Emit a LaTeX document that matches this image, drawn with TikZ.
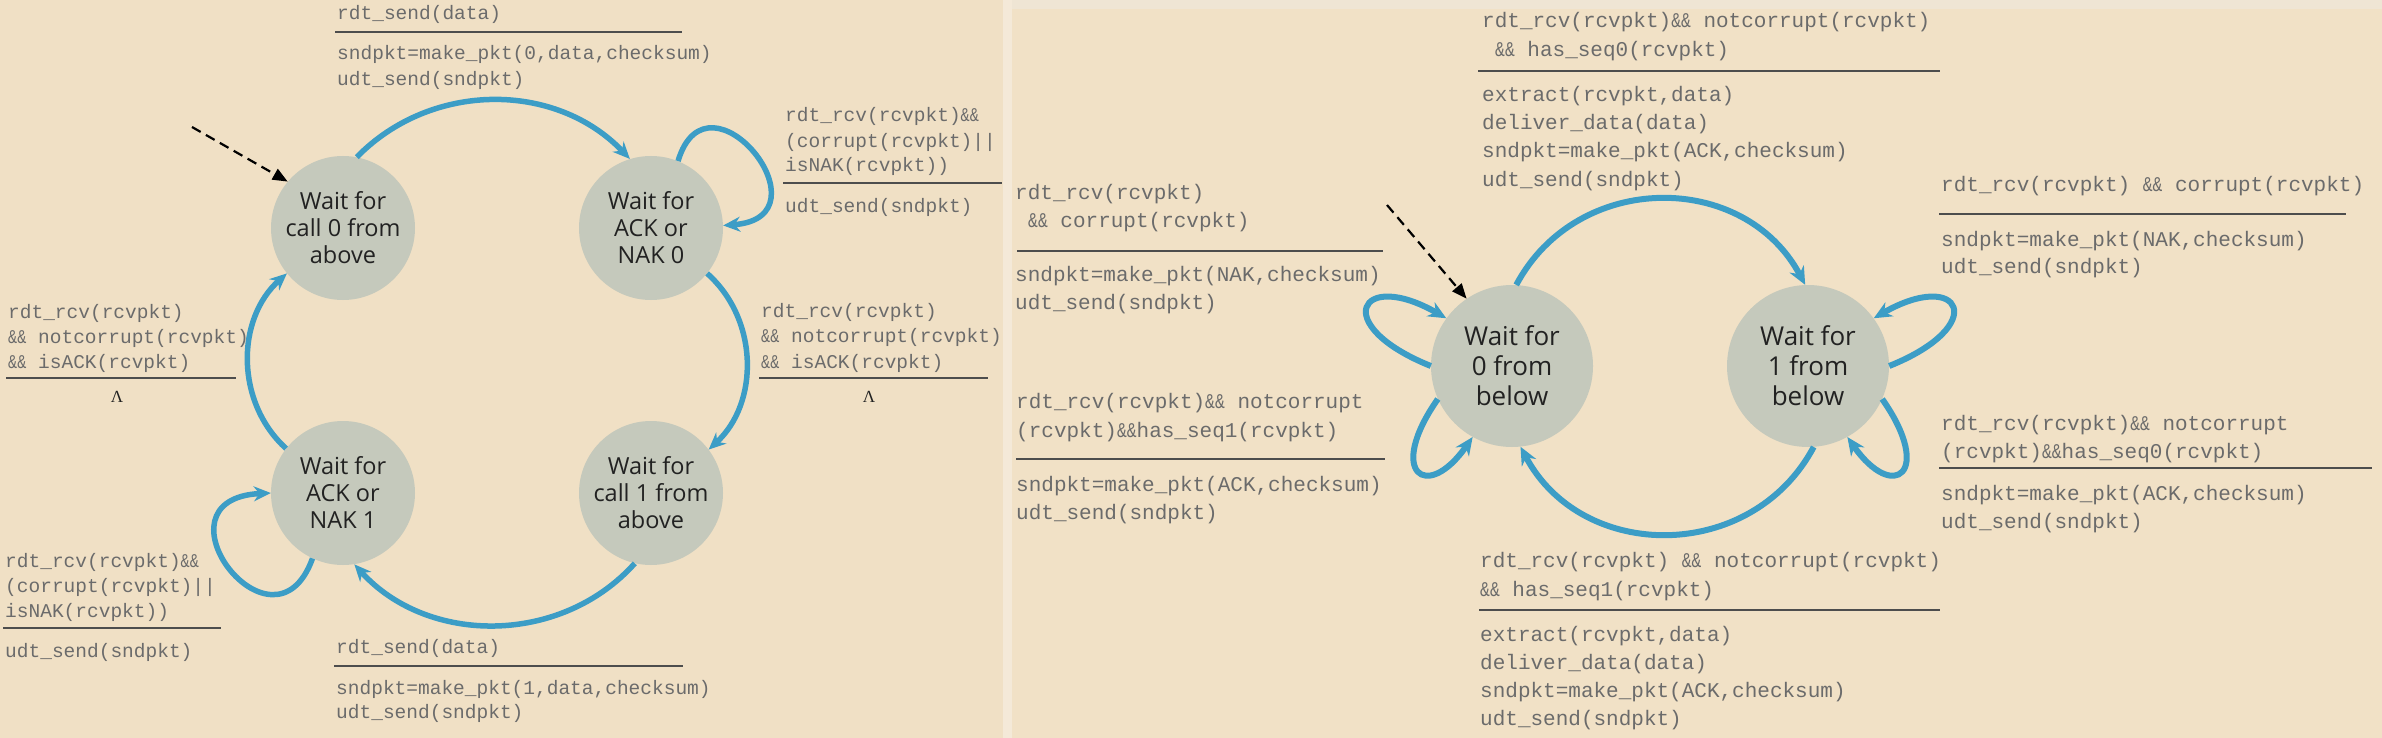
\documentclass[tikz,border=0pt]{standalone}
\usepackage{fontspec}
\usepackage{graphicx}
\usetikzlibrary{arrows.meta}
\newfontfamily\monofam{Liberation Mono}
\newfontfamily\statefam{Open Sans}
\newfontfamily\lamfam{Liberation Serif}
\newcommand\amps{\scalebox{0.78}[1]{\&\&}}
\definecolor{bgL}{HTML}{F0E0C5}
\definecolor{bgR}{HTML}{F1E1C6}
\definecolor{bgStrip}{HTML}{F4E9D8}
\definecolor{bgTop}{HTML}{EFE5D4}
\definecolor{stategray}{HTML}{C5C9BC}
\definecolor{statetext}{HTML}{222222}
\definecolor{arcblue}{HTML}{3C9DC6}
\definecolor{txtgray}{HTML}{6B6B6B}
\definecolor{rulegray}{HTML}{4D4D4D}
\begin{document}
\begin{tikzpicture}[x=1pt,y=1pt,
  monoL/.style={font=\monofam\fontsize{19.5}{24}\selectfont, text=txtgray, anchor=base west, inner sep=0pt},
  monoR/.style={font=\monofam\fontsize{21}{26}\selectfont, text=txtgray, anchor=base west, inner sep=0pt},
  lam/.style={font=\lamfam\fontsize{17}{19}\selectfont, text=statetext, inner sep=0pt},
  rulel/.style={draw=rulegray, line width=2.4pt},
  stateL/.style={circle, fill=stategray, minimum size=144pt, inner sep=0pt, align=center, font=\statefam\fontsize{23.5}{27}\selectfont, text=statetext},
  stateR/.style={circle, fill=stategray, minimum size=162pt, inner sep=0pt, align=center, font=\statefam\fontsize{26}{30}\selectfont, text=statetext},
  trans/.style={draw=arcblue, line width=5.5pt, -{Stealth[length=17pt,width=15pt]}},
  transR/.style={draw=arcblue, line width=6pt, -{Stealth[length=18pt,width=16pt]}},
  init/.style={draw=black, line width=2.2pt, dash pattern=on 10pt off 6pt, -{Triangle[length=15pt,width=12pt]}}
]
% backgrounds
\fill[bgL] (0,0) rectangle (1003,-738);
\fill[bgStrip] (1003,0) rectangle (1012,-738);
\fill[bgR] (1012,0) rectangle (2382,-738);
\fill[bgTop] (1012,0) rectangle (2382,-9);

% ---------------- left: sender ----------------
\node[stateL] (c1) at (343,-228) {Wait for\\call 0 from\\above};
\node[stateL] (c2) at (651,-228) {Wait for\\ACK or\\NAK 0};
\node[stateL] (c3) at (343,-493) {Wait for\\ACK or\\NAK 1};
\node[stateL] (c4) at (651,-493) {Wait for\\call 1 from\\above};

\coordinate (s1) at (192,-127);
\draw[init] (s1) -- (c1.140);

\draw[trans] (c1.79) to[bend left=46] (c2.107);
\draw[trans] (c2.-39) to[bend left=48] (c4.37);
\draw[trans] (c4.-103) to[bend left=48] (c3.-81);
\draw[trans] (c3.142) to[bend left=48] (c1.219);
\draw[trans] (c2.68) .. controls +(30,100) and +(110,8) .. (c2.2);
\draw[trans] (c3.-115) .. controls +(-39,-108) and +(-125,-6) .. (c3.180);

% top label
\node[monoL] (ta1) at (337,-20) {rdt\_send(data)};
\draw[rulel] (335,-32) -- (682,-32);
\node[monoL] (ta2) at (337,-60) {sndpkt=make\_pkt(0,data,checksum)};
\node[monoL] (ta3) at (337,-86) {udt\_send(sndpkt)};

% c2 self loop label
\node[monoL] (tb1) at (785,-122) {rdt\_rcv(rcvpkt)\amps};
\node[monoL] (tb2) at (785,-148) {(corrupt(rcvpkt)||};
\node[monoL] (tb3) at (785,-172) {isNAK(rcvpkt))};
\draw[rulel] (783,-183) -- (1002,-183);
\node[monoL] (tb4) at (785,-212) {udt\_send(sndpkt)};

% left label
\node[monoL] (tc1) at (8,-318) {rdt\_rcv(rcvpkt)};
\node[monoL] (tc2) at (8,-343) {\amps{} notcorrupt(rcvpkt)};
\node[monoL] (tc3) at (8,-368) {\amps{} isACK(rcvpkt)};
\draw[rulel] (6,-378) -- (236,-378);
\node[lam] (tc4) at (117,-397) {Λ};

% right label
\node[monoL] (td1) at (761,-317) {rdt\_rcv(rcvpkt)};
\node[monoL] (td2) at (761,-342) {\amps{} notcorrupt(rcvpkt)};
\node[monoL] (td3) at (761,-368) {\amps{} isACK(rcvpkt)};
\draw[rulel] (759,-378) -- (988,-378);
\node[lam] (td4) at (869,-397) {Λ};

% c3 self loop label
\node[monoL] (te1) at (5,-567) {rdt\_rcv(rcvpkt)\amps};
\node[monoL] (te2) at (5,-592) {(corrupt(rcvpkt)||};
\node[monoL] (te3) at (5,-617) {isNAK(rcvpkt))};
\draw[rulel] (3,-628) -- (221,-628);
\node[monoL] (te4) at (5,-657) {udt\_send(sndpkt)};

% bottom label
\node[monoL] (tf1) at (336,-653) {rdt\_send(data)};
\draw[rulel] (334,-666) -- (683,-666);
\node[monoL] (tf2) at (336,-694) {sndpkt=make\_pkt(1,data,checksum)};
\node[monoL] (tf3) at (336,-718) {udt\_send(sndpkt)};

% ---------------- right: receiver ----------------
\node[stateR] (c5) at (1512,-366) {Wait for\\0 from\\below};
\node[stateR] (c6) at (1808,-366) {Wait for\\1 from\\below};

\coordinate (s2) at (1387,-205);
\draw[init] (s2) -- (c5.124);

\draw[transR] (c5.87) to[bend left=62, looseness=1.15] (c6.92);
\draw[transR] (c6.-86) to[bend left=62, looseness=1.15] (c5.-84);
\draw[transR] (c5.180) .. controls +(-102,41) and +(-87,50) .. (c5.144);
\draw[transR] (c5.204) .. controls +(-52,-74) and +(-46,-66) .. (c5.241);
\draw[transR] (c6.0) .. controls +(102,41) and +(87,50) .. (c6.36);
\draw[transR] (c6.-24) .. controls +(52,-74) and +(46,-66) .. (c6.-61);

% R1 top
\node[monoR] (ra1) at (1482,-28) {rdt\_rcv(rcvpkt)\amps{} notcorrupt(rcvpkt)};
\node[monoR] (ra2) at (1495,-57) {\amps{} has\_seq0(rcvpkt)};
\draw[rulel] (1478,-71) -- (1940,-71);
\node[monoR] (ra3) at (1482,-102) {extract(rcvpkt,data)};
\node[monoR] (ra4) at (1482,-130) {deliver\_data(data)};
\node[monoR] (ra5) at (1482,-158) {sndpkt=make\_pkt(ACK,checksum)};
\node[monoR] (ra6) at (1482,-187) {udt\_send(sndpkt)};

% R2 left upper
\node[monoR] (rb1) at (1015,-200) {rdt\_rcv(rcvpkt)};
\node[monoR] (rb2) at (1028,-228) {\amps{} corrupt(rcvpkt)};
\draw[rulel] (1017,-251) -- (1383,-251);
\node[monoR] (rb3) at (1015,-281) {sndpkt=make\_pkt(NAK,checksum)};
\node[monoR] (rb4) at (1015,-309) {udt\_send(sndpkt)};

% R3 left lower
\node[monoR] (rc1) at (1016,-408) {rdt\_rcv(rcvpkt)\amps{} notcorrupt};
\node[monoR] (rc2) at (1016,-437) {(rcvpkt)\amps has\_seq1(rcvpkt)};
\draw[rulel] (1016,-459) -- (1385,-459);
\node[monoR] (rc3) at (1016,-491) {sndpkt=make\_pkt(ACK,checksum)};
\node[monoR] (rc4) at (1016,-519) {udt\_send(sndpkt)};

% R4 right upper
\node[monoR] (rd1) at (1941,-192) {rdt\_rcv(rcvpkt) \amps{} corrupt(rcvpkt)};
\draw[rulel] (1939,-214) -- (2346,-214);
\node[monoR] (rd2) at (1941,-246) {sndpkt=make\_pkt(NAK,checksum)};
\node[monoR] (rd3) at (1941,-273) {udt\_send(sndpkt)};

% R5 right lower
\node[monoR] (re1) at (1941,-430) {rdt\_rcv(rcvpkt)\amps{} notcorrupt};
\node[monoR] (re2) at (1941,-458) {(rcvpkt)\amps has\_seq0(rcvpkt)};
\draw[rulel] (1939,-468) -- (2372,-468);
\node[monoR] (re3) at (1941,-500) {sndpkt=make\_pkt(ACK,checksum)};
\node[monoR] (re4) at (1941,-528) {udt\_send(sndpkt)};

% R6 bottom
\node[monoR] (rf1) at (1480,-567) {rdt\_rcv(rcvpkt) \amps{} notcorrupt(rcvpkt)};
\node[monoR] (rf2) at (1480,-596) {\amps{} has\_seq1(rcvpkt)};
\draw[rulel] (1479,-610) -- (1940,-610);
\node[monoR] (rf3) at (1480,-641) {extract(rcvpkt,data)};
\node[monoR] (rf4) at (1480,-669) {deliver\_data(data)};
\node[monoR] (rf5) at (1480,-697) {sndpkt=make\_pkt(ACK,checksum)};
\node[monoR] (rf6) at (1480,-725) {udt\_send(sndpkt)};
\end{tikzpicture}
\end{document}
